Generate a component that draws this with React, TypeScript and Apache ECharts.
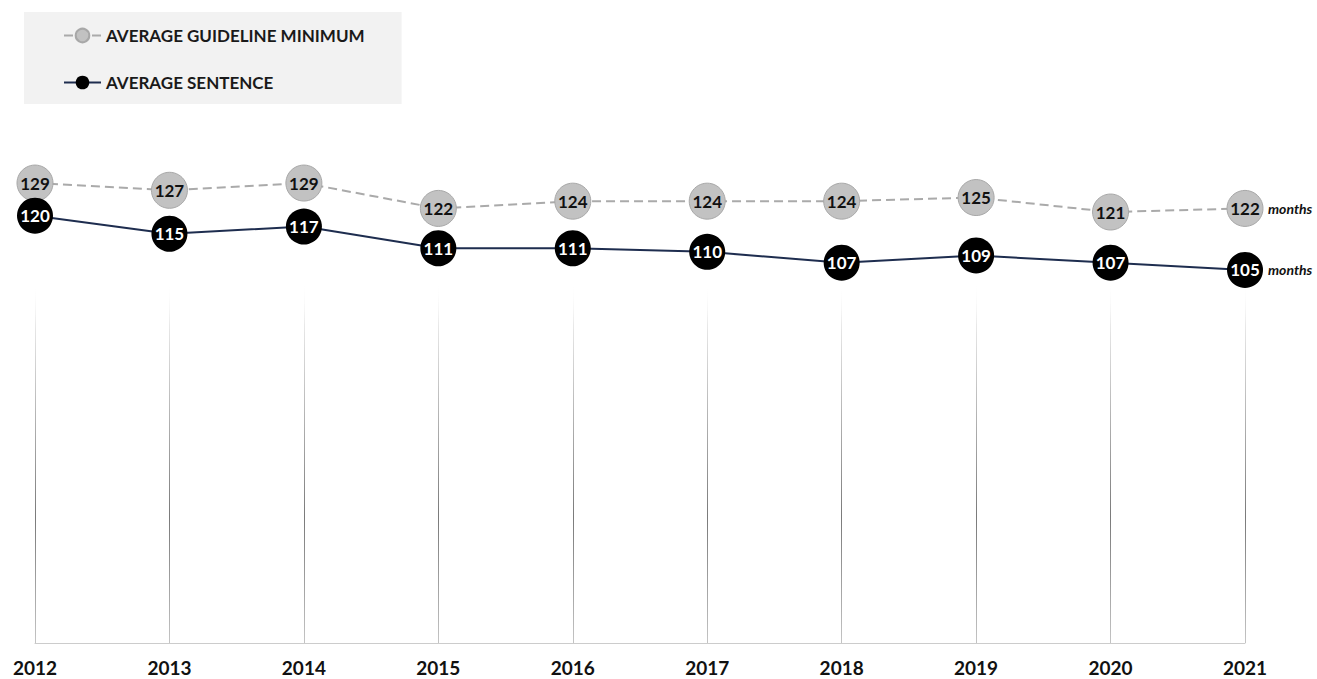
import React, { useEffect, useRef } from "react";
import * as echarts from "echarts";

const years = ["2012", "2013", "2014", "2015", "2016", "2017", "2018", "2019", "2020", "2021"];
const guidelineMin = [129, 127, 129, 122, 124, 124, 124, 125, 121, 122];
const avgSentence = [120, 115, 117, 111, 111, 110, 107, 109, 107, 105];
const seriesNames = ["AVERAGE GUIDELINE MINIMUM", "AVERAGE SENTENCE"];
const unitLabel = "months";

export default function App() {
  const ref = useRef<HTMLDivElement>(null);
  useEffect(() => {
    if (!ref.current) return;
    const chart = echarts.init(ref.current, null, { renderer: "svg" });
    const gridGradient = new echarts.graphic.LinearGradient(
      0, 282, 0, 643,
      [
        { offset: 0, color: "rgba(255,255,255,0)" },
        { offset: 0.12, color: "#e8e8e8" },
        { offset: 0.65, color: "#7a7a7a" },
        { offset: 1, color: "#c4c4c4" },
      ],
      true
    );
    const endLabelStyle = {
      show: true,
      formatter: unitLabel,
      distance: 23,
      fontFamily: "Lato",
      fontStyle: "italic",
      fontWeight: "bold",
      fontSize: 14,
      color: "#111",
    };
    chart.setOption({
      animation: false,
      textStyle: { fontFamily: "Lato" },
      legend: {
        left: 24,
        top: 12,
        orient: "vertical",
        backgroundColor: "#f2f2f2",
        padding: [15, 37, 13, 39],
        itemGap: 30,
        itemWidth: 37,
        itemHeight: 17,
        textStyle: { fontFamily: "Lato", fontWeight: "bold", fontSize: 17, color: "#1a1a1a" },
        data: seriesNames,
      },
      grid: { left: 35, right: 72, top: 107, bottom: 36 },
      xAxis: {
        type: "category",
        data: years,
        boundaryGap: false,
        axisLine: { lineStyle: { color: "#cccccc", width: 1 } },
        axisTick: { show: false },
        axisLabel: { margin: 15, fontFamily: "Lato", fontWeight: "bold", fontSize: 19, color: "#111" },
        splitLine: { show: true, lineStyle: { color: gridGradient, width: 1 } },
      },
      yAxis: {
        type: "value",
        min: 2,
        max: 150,
        show: false,
        splitLine: { show: false },
      },
      series: [
        {
          name: seriesNames[0],
          type: "line",
          data: guidelineMin,
          symbol: "circle",
          symbolSize: 36,
          lineStyle: { color: "#aaaaaa", width: 2, type: [9, 5] },
          itemStyle: { color: "#c2c2c2", borderColor: "#a8a8a8", borderWidth: 1 },
          label: {
            show: true,
            position: "inside",
            fontFamily: "Lato",
            fontWeight: "bold",
            fontSize: 17,
            color: "#111",
          },
          endLabel: endLabelStyle,
          emphasis: { disabled: true },
          z: 2,
        },
        {
          name: seriesNames[1],
          type: "line",
          data: avgSentence,
          symbol: "circle",
          symbolSize: 36,
          lineStyle: { color: "#1e2d4f", width: 2 },
          itemStyle: { color: "#000000" },
          label: {
            show: true,
            position: "inside",
            fontFamily: "Lato",
            fontWeight: "bold",
            fontSize: 17,
            color: "#ffffff",
          },
          endLabel: endLabelStyle,
          emphasis: { disabled: true },
          z: 3,
        },
      ],
    });
    return () => chart.dispose();
  }, []);
  return (
    <div
      ref={ref}
      style={{ position: "absolute", left: 0, top: 0, width: 1317, height: 679 }}
    />
  );
}
